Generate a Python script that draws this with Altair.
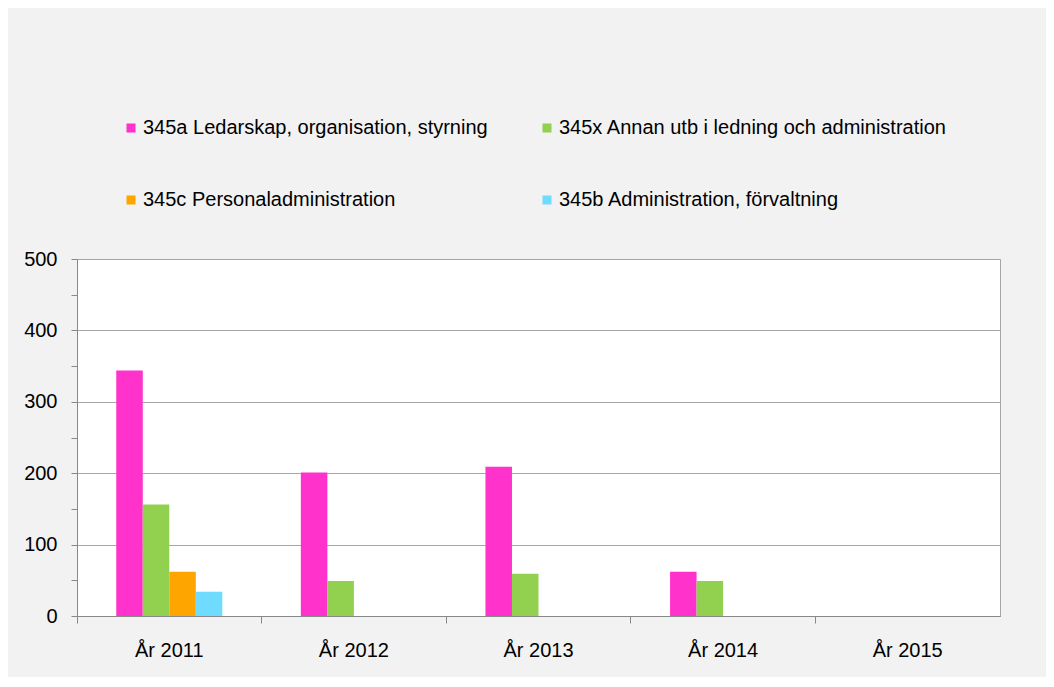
import altair as alt
import pandas as pd

years = ["År 2011", "År 2012", "År 2013", "År 2014", "År 2015"]
series = [
    "345a Ledarskap, organisation, styrning",
    "345x Annan utb i ledning och administration",
    "345c Personaladministration",
    "345b Administration, förvaltning",
]
colors = ["#FF33CC", "#92D050", "#FFA500", "#6FDBFF"]
# legend fills column by column: first column a, c; second column x, b
legend_order = [series[0], series[2], series[1], series[3]]

# values per series by year (None = no bar)
s_345a = [344, 201, 209, 62, None]
s_345x = [156, 49, 59, 49, None]
s_345c = [62, None, None, None, None]
s_345b = [34, None, None, None, None]

rows = []
for name, vals in zip(series, [s_345a, s_345x, s_345c, s_345b]):
    for y, v in zip(years, vals):
        if v is not None:
            rows.append({"year": y, "series": name, "value": v})
df = pd.DataFrame(rows)

FONT = "Liberation Sans"
ytick_values = list(range(0, 501, 50))
# empty slots on either side of each group of bars
offset_domain = ["_gap_left"] + series + ["_gap_right"]

chart = alt.Chart(df).mark_bar().encode(
    x=alt.X(
        "year:N",
        scale=alt.Scale(domain=years, paddingInner=0, paddingOuter=0),
        axis=alt.Axis(
            title=None,
            labelAngle=0,
            labelFontSize=20,
            labelFont=FONT,
            labelColor="#000000",
            labelPadding=17,
            tickSize=7,
            tickColor="#888888",
            domainColor="#888888",
            bandPosition=0,
            grid=False,
        ),
    ),
    xOffset=alt.XOffset(
        "series:N",
        scale=alt.Scale(domain=offset_domain, paddingInner=0, paddingOuter=0.48),
    ),
    y=alt.Y(
        "value:Q",
        scale=alt.Scale(domain=[0, 500], nice=False),
        axis=alt.Axis(
            title=None,
            values=ytick_values,
            labelExpr="datum.value % 100 == 0 ? datum.label : ''",
            labelFontSize=20,
            labelFont=FONT,
            labelColor="#000000",
            labelPadding=14,
            tickSize=6,
            tickColor="#888888",
            domainColor="#888888",
            gridColor="#a6a6a6",
            gridOpacity={"condition": {"test": "datum.value % 100 == 0", "value": 1}, "value": 0},
        ),
    ),
    color=alt.Color(
        "series:N",
        scale=alt.Scale(domain=series, range=colors),
        legend=alt.Legend(
            title=None,
            values=legend_order,
            orient="none",
            legendX=44,
            legendY=-141,
            columns=2,
            columnPadding=49,
            rowPadding=52,
            symbolType="square",
            symbolSize=81,
            symbolStrokeWidth=0,
            labelFontSize=20,
            labelFont=FONT,
            labelColor="#000000",
            labelLimit=600,
            labelOffset=2,
        ),
    ),
).properties(
    width=923,
    height=357,
    autosize=alt.AutoSizeParams(type="none"),
    padding={"left": 69, "top": 251, "right": 46, "bottom": 61},
    background="#f2f2f2",
).configure_view(
    fill="#ffffff",
    stroke="#a6a6a6",
)

chart.save("out.html", embed_options={"renderer": "svg", "actions": False})
